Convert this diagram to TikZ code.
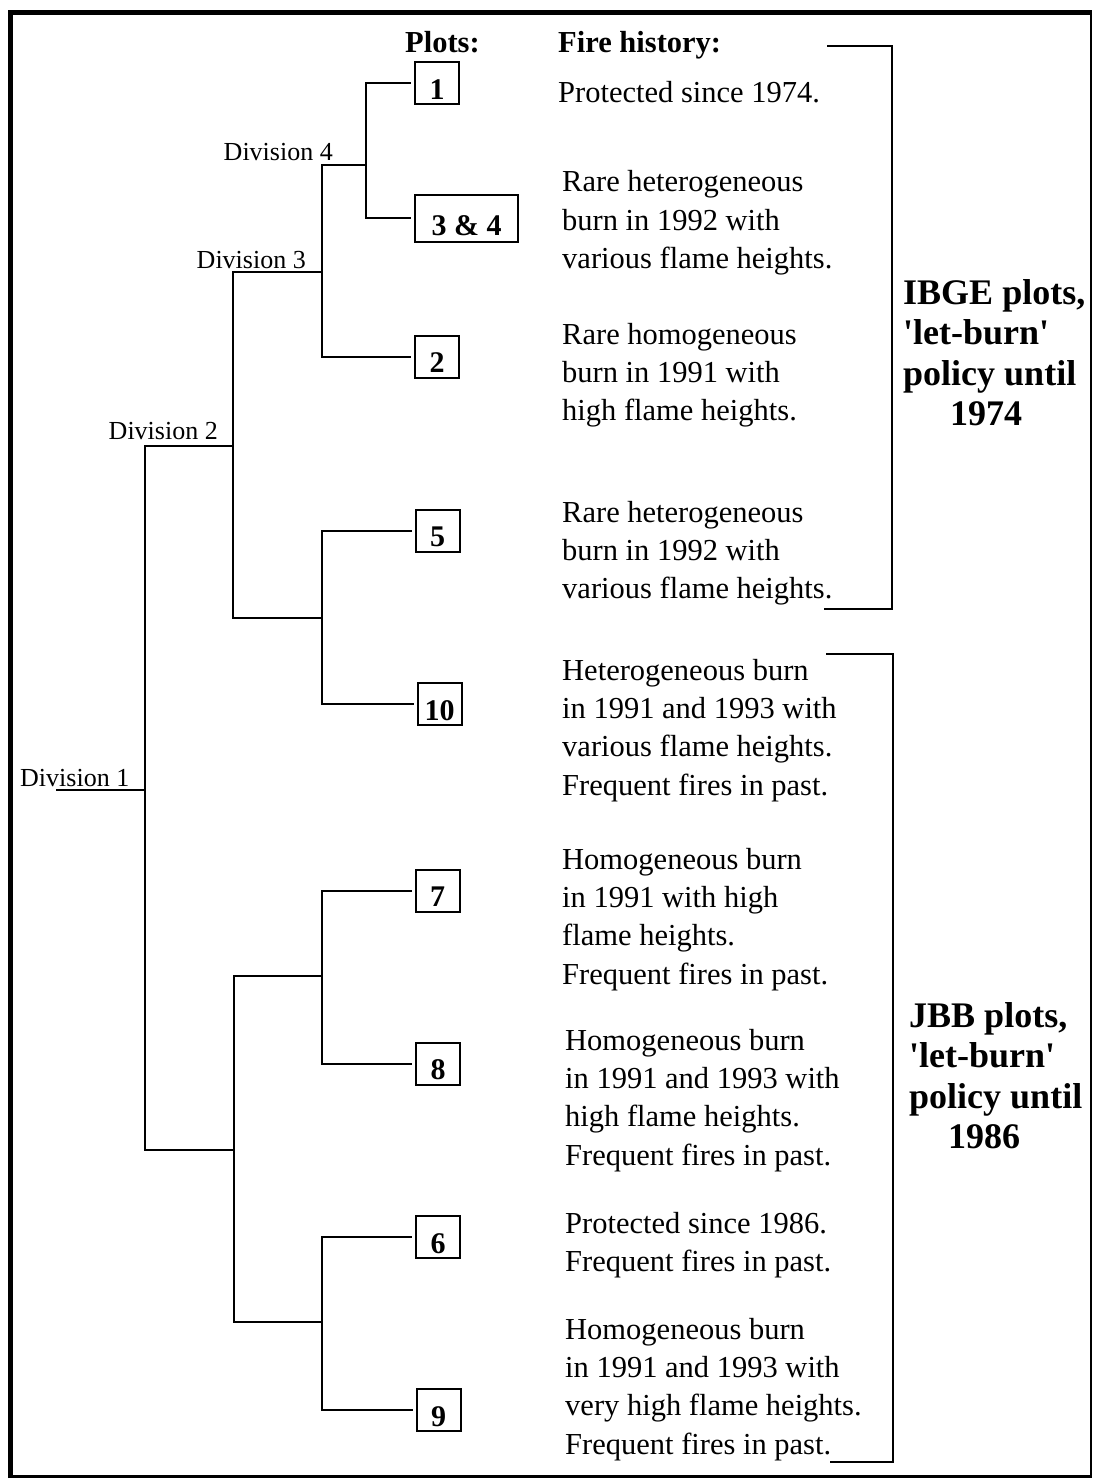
\documentclass[tikz,border=0pt]{standalone}
\usepackage{fontspec}
\setmainfont{Liberation Serif}
\begin{document}
% multi-line nodes below are anchored at the baseline of their last line
\begin{tikzpicture}[x=1pt,y=-1pt,
  tree/.style={line width=2pt, line join=miter},
  tolink/.style={tree, shorten >=3pt},
  plotbox/.style={draw, line width=2pt, inner xsep=0pt, inner ysep=0pt,
    minimum width=44pt, minimum height=42pt, text height=37pt, text depth=5pt,
    font=\bfseries\fontsize{30}{30}\selectfont},
  divlbl/.style={inner sep=0pt, font=\fontsize{26}{30}\selectfont},
  hdr/.style={inner sep=0pt, anchor=base west, font=\bfseries\fontsize{30.5}{36}\selectfont},
  history/.style={inner sep=0pt, anchor=base west, align=left,
    font=\fontsize{30.5}{38.4}\selectfont},
  grouplbl/.style={inner sep=0pt, anchor=base west, align=left,
    font=\bfseries\fontsize{36}{40.5}\selectfont},
  bracket/.style={line width=2pt}
]
\useasboundingbox (0,0) rectangle (1095,1479);

% outer frame: heavy on the left and top, lighter on the right and bottom
\draw[line width=5.5pt] (10.5,1478) -- (10.5,12.75) -- (1092,12.75);
\draw[line width=2.5pt] (1091,12) -- (1091,1476.5) -- (8,1476.5);

% headings
\node[hdr] (plotshdr) at (405,53) {Plots:};
\node[hdr] (firehdr) at (558,53) {Fire history:};

% plot boxes
\node[plotbox] (b1)  at (437,83.5)   {1};
\node[plotbox, minimum width=103pt, minimum height=47pt, text height=41pt, text depth=6pt] (b34) at (466.5,218.5) {3 \& 4};
\node[plotbox] (b2)  at (437,356.5)  {2};
\node[plotbox] (b5)  at (437.5,530.5) {5};
\node[plotbox] (b10) at (439.5,704)  {10};
\node[plotbox] (b7)  at (437.5,890.5) {7};
\node[plotbox] (b8)  at (438,1063.5) {8};
\node[plotbox] (b6)  at (438,1237)   {6};
\node[plotbox] (b9)  at (438.5,1410) {9};

% branching points of the tree
\coordinate (a4) at (366,165);
\coordinate (a3) at (322,272);
\coordinate (a2) at (233,446);
\coordinate (a5) at (322,618);
\coordinate (a1) at (145,790);
\coordinate (root) at (56,790);
\coordinate (bl) at (234,1150);
\coordinate (c78) at (322,976);
\coordinate (c69) at (322,1322);

% division labels
\node[divlbl, anchor=base east] (div4) at (333,161) {Division 4};
\node[divlbl, anchor=base east] (div3) at (306,268) {Division 3};
\node[divlbl, anchor=base east] (div2) at (218,439) {Division 2};
\node[divlbl, anchor=base west] (div1) at (20,786) {Division 1};

% tree
\draw[tolink] (a4) |- (b1.west);
\draw[tolink] (a4) |- (b34.west);
\draw[tree] (a4) -| (a3);
\draw[tolink] (a3) |- (b2.west);
\draw[tree] (a3) -| (a2);
\draw[tree] (a5) -| (a2);
\draw[tolink] (a5) |- (b5.west);
\draw[tolink] (a5) |- (b10.west);
\draw[tree] (a2) -| (a1);
\draw[tree] (bl) -| (a1);
\draw[tree] (a1) -- (root);
\draw[tree] (c78) -| (bl);
\draw[tree] (c69) -| (bl);
\draw[tolink] (c78) |- (b7.west);
\draw[tolink] (c78) |- (b8.west);
\draw[tolink] (c69) |- (b6.west);
\draw[tolink] (c69) |- (b9.west);

% fire histories
\node[history] (h1) at (558,103) {Protected since 1974.};
\node[history] (h34) at (562,268.8) {Rare heterogeneous\\burn in 1992 with\\various flame heights.};
\node[history] (h2) at (562,420.8) {Rare homogeneous\\burn in 1991 with\\high flame heights.};
\node[history] (h5) at (562,598.8) {Rare heterogeneous\\burn in 1992 with\\various flame heights.};
\node[history] (h10) at (562,795.2) {Heterogeneous burn\\in 1991 and 1993 with\\various flame heights.\\Frequent fires in past.};
\node[history] (h7) at (562,984.2) {Homogeneous burn\\in 1991 with high\\flame heights.\\Frequent fires in past.};
\node[history] (h8) at (565,1165.2) {Homogeneous burn\\in 1991 and 1993 with\\high flame heights.\\Frequent fires in past.};
\node[history] (h6) at (565,1271.4) {Protected since 1986.\\Frequent fires in past.};
\node[history] (h9) at (565,1454.2) {Homogeneous burn\\in 1991 and 1993 with\\very high flame heights.\\Frequent fires in past.};

% group brackets
\coordinate (ibgeT) at (827,46);
\coordinate (ibgeB) at (824,609);
\draw[bracket] (ibgeT) -- (892,46) -- (892,609) -- (ibgeB);
\coordinate (jbbT) at (826,654);
\coordinate (jbbB) at (830,1462);
\draw[bracket] (jbbT) -- (893,654) -- (893,1462) -- (jbbB);

% group labels
\node[grouplbl] (ibge) at (903,425.5) {IBGE plots,\\\textquotesingle let-burn\textquotesingle\\policy until\\\hspace*{47pt}1974};
\node[grouplbl] (jbb) at (909,1148.5) {JBB plots,\\\textquotesingle let-burn\textquotesingle\\policy until\\\hspace*{39pt}1986};
\end{tikzpicture}
\end{document}
